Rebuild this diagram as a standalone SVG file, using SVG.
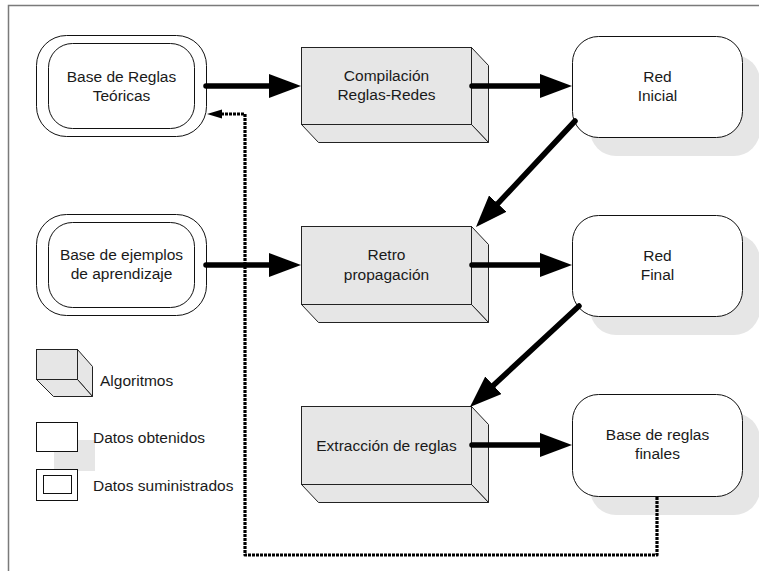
<svg xmlns="http://www.w3.org/2000/svg" width="759" height="571" viewBox="0 0 759 571">
  <style>
    text { font-family: "Liberation Sans", Arial, sans-serif; font-size: 15.5px; fill: #1a1a1a; text-anchor: middle; }
    text.legend { text-anchor: start; }
    .frame { fill: #ffffff; stroke: #7a7a7a; stroke-width: 1.5; }
    .node { fill: #ffffff; stroke: #111111; stroke-width: 1; }
    .shadow { fill: #e6e6e6; stroke: none; }
    .cube { fill: #e6e6e6; stroke: #222222; stroke-width: 1; stroke-linejoin: miter; }
    .flow { fill: none; stroke: #000000; stroke-width: 5.5; stroke-linecap: round; marker-end: url(#head); }
    .feedback { fill: none; stroke: #000000; stroke-width: 3.2; stroke-dasharray: 3 1; stroke-linejoin: round; marker-end: url(#headSmall); }
  </style>
  <defs>
    <marker id="head" markerUnits="userSpaceOnUse" markerWidth="32" markerHeight="24" refX="22" refY="12" orient="auto">
      <path d="M0,0 L32,12 L0,24 z" fill="#000000"/>
    </marker>
    <marker id="headSmall" markerUnits="userSpaceOnUse" markerWidth="15" markerHeight="10" refX="7" refY="5" orient="auto">
      <path d="M0,0.5 L15,5 L0,9.5 z" fill="#000000"/>
    </marker>
  </defs>

  <!-- page frame -->
  <rect class="frame" x="8.5" y="5.5" width="760" height="580"/>

  <!-- supplied data: rule base -->
  <g id="base-reglas-teoricas">
    <rect class="node" x="36.5" y="35.5" width="170" height="101" rx="30" ry="30"/>
    <rect class="node" x="48.5" y="43.5" width="146" height="85" rx="24" ry="24"/>
    <text x="121.5" y="82">Base de Reglas</text>
    <text x="121.5" y="101">Teóricas</text>
  </g>

  <!-- supplied data: training examples -->
  <g id="base-ejemplos">
    <rect class="node" x="36.5" y="214.5" width="170" height="101" rx="30" ry="30"/>
    <rect class="node" x="48.5" y="222.5" width="146" height="85" rx="24" ry="24"/>
    <text x="121.5" y="260">Base de ejemplos</text>
    <text x="121.5" y="279">de aprendizaje</text>
  </g>

  <!-- algorithm: rules-to-network compilation -->
  <g id="compilacion">
    <polygon class="cube" points="471.5,47.5 488.5,65.5 488.5,142.5 471.5,124.5"/>
    <polygon class="cube" points="301.5,124.5 318.5,142.5 488.5,142.5 471.5,124.5"/>
    <rect class="cube" x="301.5" y="47.5" width="170" height="77"/>
    <text x="386.5" y="81">Compilación</text>
    <text x="386.5" y="100">Reglas-Redes</text>
  </g>

  <!-- algorithm: backpropagation -->
  <g id="retropropagacion">
    <polygon class="cube" points="471.5,226.5 488.5,244.5 488.5,322.5 471.5,304.5"/>
    <polygon class="cube" points="301.5,304.5 318.5,322.5 488.5,322.5 471.5,304.5"/>
    <rect class="cube" x="301.5" y="226.5" width="170" height="78"/>
    <text x="386.5" y="260">Retro</text>
    <text x="386.5" y="280">propagación</text>
  </g>

  <!-- algorithm: rule extraction -->
  <g id="extraccion">
    <polygon class="cube" points="471.5,406.5 488.5,424.5 488.5,502.5 471.5,484.5"/>
    <polygon class="cube" points="301.5,484.5 318.5,502.5 488.5,502.5 471.5,484.5"/>
    <rect class="cube" x="301.5" y="406.5" width="170" height="78"/>
    <text x="386.5" y="451">Extracción de reglas</text>
  </g>

  <!-- obtained data: initial network -->
  <g id="red-inicial">
    <rect class="shadow" x="590" y="55" width="170" height="101" rx="26" ry="26"/>
    <rect class="node" x="572.5" y="36.5" width="170" height="101" rx="26" ry="26"/>
    <text x="657.5" y="82">Red</text>
    <text x="657.5" y="101">Inicial</text>
  </g>

  <!-- obtained data: final network -->
  <g id="red-final">
    <rect class="shadow" x="590" y="234" width="170" height="101" rx="26" ry="26"/>
    <rect class="node" x="572.5" y="215.5" width="170" height="101" rx="26" ry="26"/>
    <text x="657.5" y="261">Red</text>
    <text x="657.5" y="280">Final</text>
  </g>

  <!-- obtained data: final rule base -->
  <g id="base-reglas-finales">
    <rect class="shadow" x="590" y="413" width="170" height="102" rx="26" ry="26"/>
    <rect class="node" x="572.5" y="394.5" width="170" height="102" rx="26" ry="26"/>
    <text x="657.5" y="440">Base de reglas</text>
    <text x="657.5" y="459">finales</text>
  </g>

  <!-- legend -->
  <g id="legend-algoritmos">
    <polygon class="cube" points="77.5,349.5 92.5,366.5 92.5,396.5 77.5,379.5"/>
    <polygon class="cube" points="36.5,379.5 53.5,396.5 92.5,396.5 77.5,379.5"/>
    <rect class="cube" x="36.5" y="349.5" width="41" height="30"/>
    <text class="legend" x="100" y="386">Algoritmos</text>
  </g>
  <g id="legend-obtenidos">
    <rect class="shadow" x="54" y="440" width="41" height="31"/>
    <rect class="node" x="36.5" y="422.5" width="41" height="29"/>
    <text class="legend" x="93" y="443">Datos obtenidos</text>
  </g>
  <g id="legend-suministrados">
    <rect class="node" x="36.5" y="469.5" width="41" height="31"/>
    <rect class="node" x="43.5" y="475.5" width="28" height="18"/>
    <text class="legend" x="93" y="491">Datos suministrados</text>
  </g>

  <!-- connectors -->
  <g id="connectors">
    <path class="flow" d="M206,86 L291,86"/>
    <path class="flow" d="M472,86 L562,86"/>
    <path class="flow" d="M575,121 L482.8,219.7"/>
    <path class="flow" d="M206,265 L291,265"/>
    <path class="flow" d="M472,265 L562,265"/>
    <path class="flow" d="M579,306 L477.3,400.2"/>
    <path class="flow" d="M472,445 L562,445"/>
    <path class="feedback" d="M657,497 V555 H245 V114 H215"/>
  </g>
</svg>
